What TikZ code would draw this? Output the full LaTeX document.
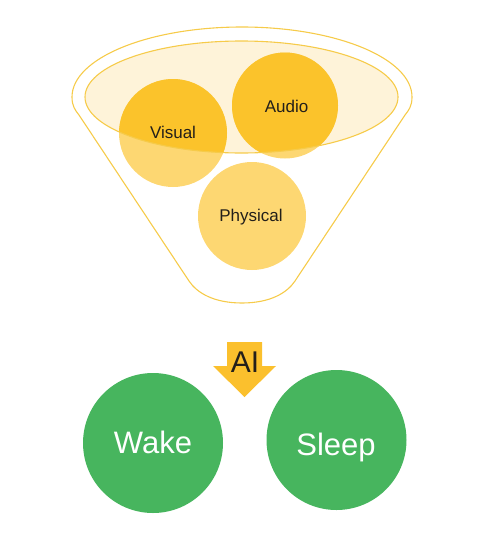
\documentclass[tikz,border=0pt]{standalone}
\usepackage{fontspec}
\setmainfont{Liberation Sans}
\definecolor{ydark}{HTML}{FBC32B}
\definecolor{ylight}{HTML}{FDD772}
\definecolor{ycream}{HTML}{FEF3D9}
\definecolor{yline}{HTML}{F6CB4A}
\definecolor{arrowy}{HTML}{FBC02D}
\definecolor{gr}{HTML}{47B55E}
\definecolor{txt}{HTML}{231F1A}
\tikzset{
  funnelline/.style={draw=yline, line width=1.1pt},
  sense/.style={circle, fill=ylight, inner sep=0pt, minimum size=#1},
  senselabel/.style={anchor=base, text=txt, font=\fontsize{17}{20}\selectfont},
  state/.style={circle, fill=gr, inner sep=0pt, minimum size=140pt},
  statelabel/.style={anchor=base, text=white, font=\fontsize{31}{36}\selectfont},
}
\begin{document}
\begin{tikzpicture}[x=1pt,y=1pt]
\useasboundingbox (0,0) rectangle (489,-538);
% funnel outline
\draw[funnelline] (412,-97) arc[start angle=0,end angle=180,x radius=170pt,y radius=70pt]
  .. controls (72,-106) and (75,-110) .. (79,-115) -- (189,-281)
  .. controls (197,-293) and (214,-303) .. (242,-303)
  .. controls (270,-303) and (287,-293) .. (295,-281) -- (405,-115)
  .. controls (409,-110) and (412,-106) .. (412,-97) -- cycle;
% inner ellipse fill
\fill[ycream] (241.5,-97) ellipse[x radius=156.5pt, y radius=56pt];
% circles
\node[sense=108pt] (vis) at (173,-133) {};
\node[sense=106pt] (aud) at (285,-105.5) {};
\node[sense=108pt] (phy) at (252,-216) {};
\begin{scope}
  \clip (241.5,-97) ellipse[x radius=156.5pt, y radius=56pt];
  \fill[ydark] (vis.center) circle[radius=54pt];
  \fill[ydark] (aud.center) circle[radius=53pt];
\end{scope}
\draw[funnelline] (241.5,-97) ellipse[x radius=156.5pt, y radius=56pt];
\node[senselabel] (visl) at (173,-138) {Visual};
\node[senselabel] (audl) at (286.5,-112) {Audio};
\node[senselabel] (phyl) at (251,-221) {Physical};
% AI arrow
\fill[arrowy] (227,-342) -- (262,-342) -- (262,-366) -- (276,-366) -- (244.5,-397)
  -- (213,-366) -- (227,-366) -- cycle;
\node[anchor=base, text=txt, font=\fontsize{30}{36}\selectfont] (ai) at (245,-372) {AI};
% states
\node[state] (wake) at (153,-443) {};
\node[state] (sleep) at (336.5,-440) {};
\node[statelabel] (wakel) at (153,-453) {Wake};
\node[statelabel] (sleepl) at (336,-455) {Sleep};
\end{tikzpicture}
\end{document}
